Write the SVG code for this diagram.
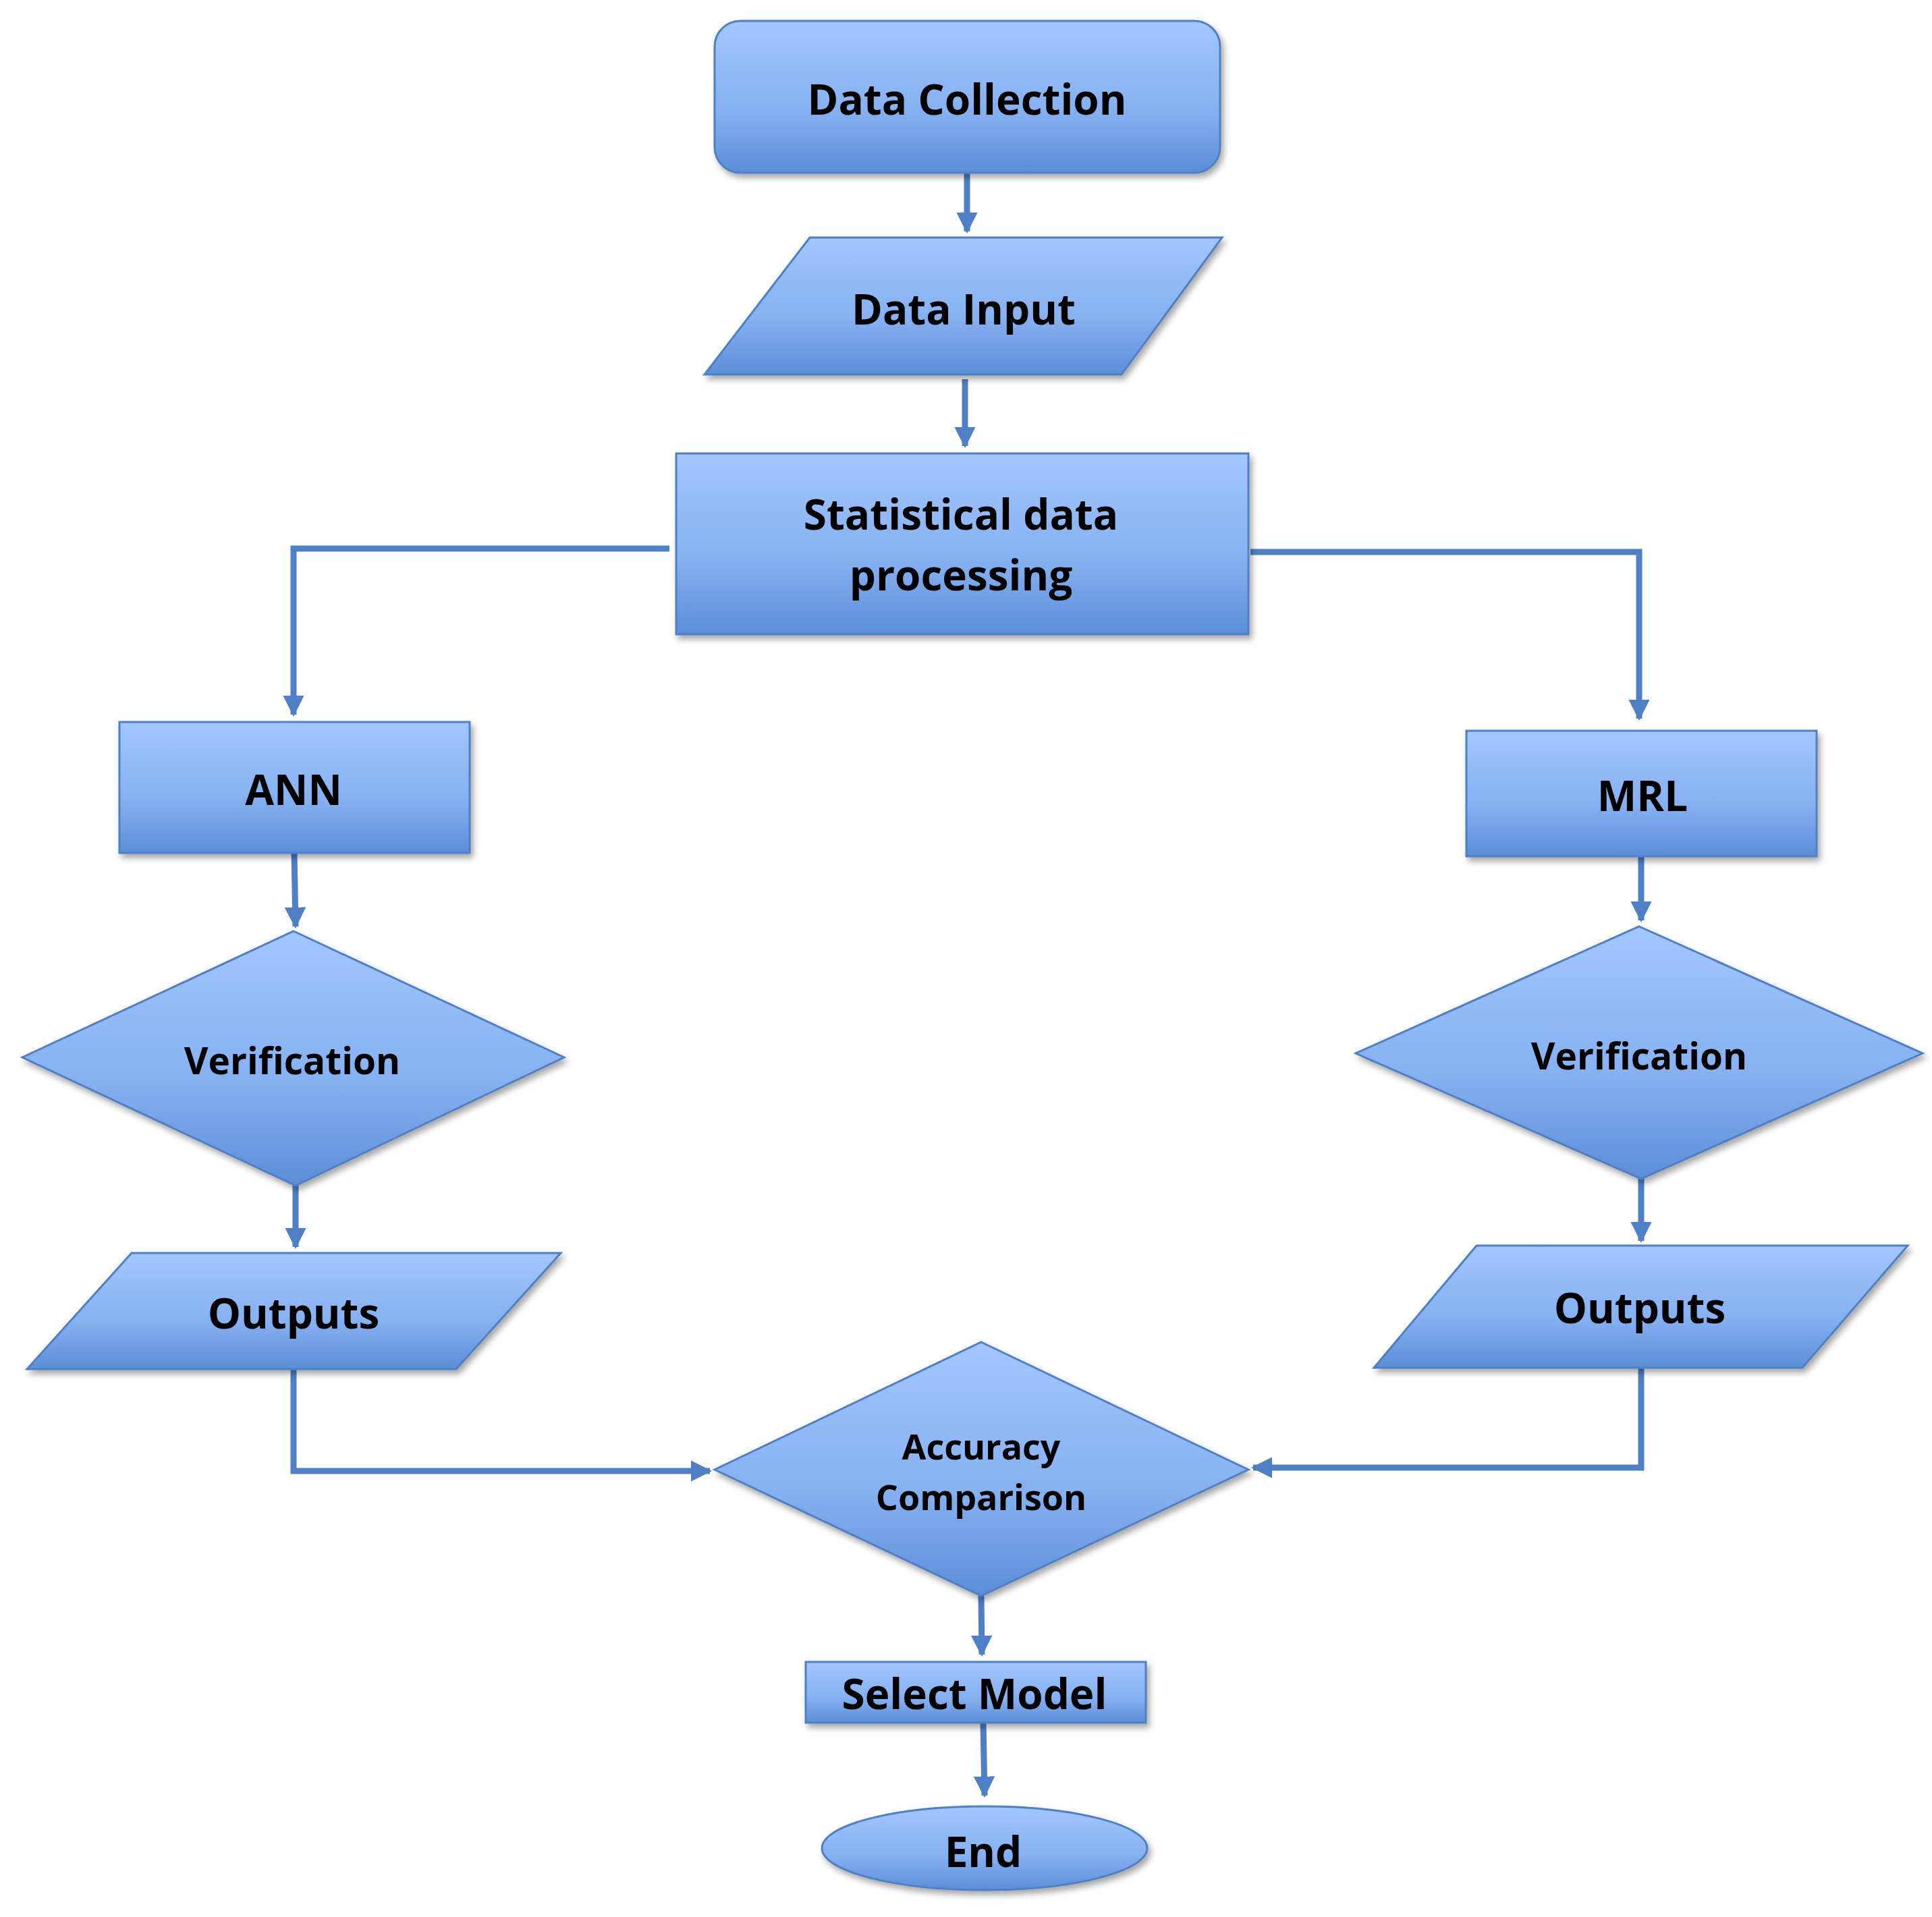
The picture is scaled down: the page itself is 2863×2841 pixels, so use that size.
<svg xmlns="http://www.w3.org/2000/svg" width="2863" height="2841" viewBox="0 0 2863 2841">
<defs>
<linearGradient id="g" x1="0" y1="0" x2="0" y2="1">
<stop offset="0" stop-color="#a3c6ff"/><stop offset="0.6" stop-color="#85b0f0"/><stop offset="1" stop-color="#5b8ed8"/>
</linearGradient>
<filter id="sh" x="-10%" y="-10%" width="130%" height="130%"><feDropShadow dx="4" dy="6" stdDeviation="5" flood-color="#000" flood-opacity="0.35"/></filter>
<marker id="a" viewBox="0 0 10 10" refX="9" refY="5" markerWidth="3.5" markerHeight="3.5" orient="auto"><path d="M0,0 L10,5 L0,10 z" fill="#4f7fc4"/></marker>
</defs>
<style>
.n{fill:url(#g);stroke:#4f7fc4;stroke-width:3;filter:url(#sh)}
.c{fill:none;stroke:#4f7fc4;stroke-width:9;marker-end:url(#a)}
text{font-family:"Open Sans","Liberation Sans",sans-serif;font-weight:bold;fill:#000;text-anchor:middle;dominant-baseline:central}
</style>
<rect width="2863" height="2841" fill="#fff"/>
<g id="connectors">
<path class="c" d="M1433,256 V343"/>
<path class="c" d="M1430,562 V661"/>
<path class="c" d="M992,813 H435 V1059"/>
<path class="c" d="M1853,818 H2429 V1065"/>
<path class="c" d="M436,1264 L438,1373"/>
<path class="c" d="M438,1757 V1848"/>
<path class="c" d="M2432,1269 V1364"/>
<path class="c" d="M2432,1747 V1839"/>
<path class="c" d="M435,2029 V2180 H1052"/>
<path class="c" d="M2432,2027 V2175 H1857"/>
<path class="c" d="M1454,2365 L1455,2452"/>
<path class="c" d="M1457,2553 L1459,2661"/>
</g>
<g id="data-collection"><rect class="n" x="1059" y="31" width="749" height="225" rx="38"/><text x="1433" y="146" font-size="62">Data Collection</text></g>
<g id="data-input"><polygon class="n" points="1200,352 1811,352 1662,555 1044,555"/><text x="1428" y="457" font-size="62">Data Input</text></g>
<g id="statistical"><rect class="n" x="1002" y="672" width="848" height="268"/><text x="1424" y="761" font-size="62">Statistical data</text><text x="1424" y="851" font-size="62">processing</text></g>
<g id="ann"><rect class="n" x="177" y="1070" width="519" height="194"/><text x="435" y="1169" font-size="62">ANN</text></g>
<g id="mrl"><rect class="n" x="2173" y="1083" width="519" height="186"/><text x="2434" y="1178" font-size="62">MRL</text></g>
<g id="verification-left"><polygon class="n" points="435,1380 836,1567 438,1757 33,1567"/><text x="433" y="1570" font-size="55">Verification</text></g>
<g id="verification-right"><polygon class="n" points="2429,1373 2849,1561 2432,1747 2009,1561"/><text x="2429" y="1563" font-size="55">Verification</text></g>
<g id="outputs-left"><polygon class="n" points="195,1857 831,1857 676,2029 40,2029"/><text x="435" y="1945" font-size="62">Outputs</text></g>
<g id="outputs-right"><polygon class="n" points="2188,1846 2827,1846 2671,2027 2036,2027"/><text x="2430" y="1937" font-size="62">Outputs</text></g>
<g id="accuracy"><polygon class="n" points="1454,1989 1850,2178 1454,2365 1059,2178"/><text x="1454" y="2142" font-size="52">Accuracy</text><text x="1454" y="2217" font-size="52">Comparison</text></g>
<g id="select-model"><rect class="n" x="1194" y="2463" width="504" height="90"/><text x="1444" y="2509" font-size="62">Select Model</text></g>
<g id="end"><ellipse class="n" cx="1459" cy="2739" rx="241" ry="62"/><text x="1457" y="2743" font-size="62">End</text></g>
</svg>
